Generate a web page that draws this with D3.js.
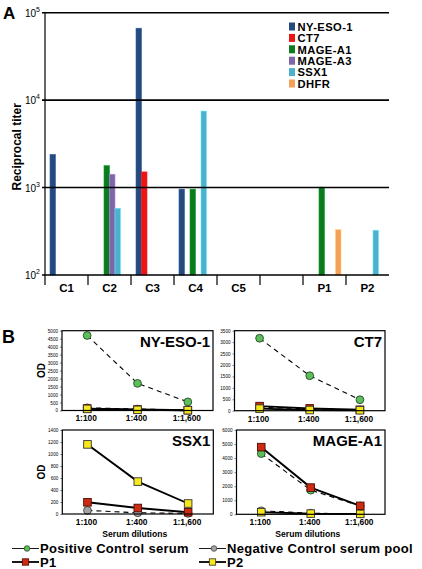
<!DOCTYPE html>
<html><head><meta charset="utf-8">
<script src="https://cdn.jsdelivr.net/npm/d3@7"></script>
<style>
html,body{margin:0;padding:0;background:#fff;}
svg{display:block;font-family:"Liberation Sans",Arial,Helvetica,sans-serif;}
</style></head>
<body>
<svg id="chart" width="422" height="569"></svg>
<script>
// ---------- Panel A data ----------
const categories = ["C1","C2","C3","C4","C5","","P1","P2"];
const antigens = ["NY-ESO-1","CT7","MAGE-A1","MAGE-A3","SSX1","DHFR"];
const antigenColors = ["#254a7e","#ee1414","#0c7a1e","#8066a8","#4db0cc","#f5a05a"];
const titerNYESO1 = [2400, null, 66500, 960, null, null, null, null];
const titerCT7    = [null, null, 1510, null, null, null, null, null];
const titerMAGEA1 = [null, 1780, null, 960, null, null, 1010, null];
const titerMAGEA3 = [null, 1420, null, null, null, null, null, null];
const titerSSX1   = [null, 580, null, 7500, null, null, null, 325];
const titerDHFR   = [null, null, null, null, null, null, 330, null];
const titerTicks = [100, 1000, 10000, 100000];

// ---------- Panel B data ----------
const dilutions = ["1:100","1:400","1:1,600"];
const seriesNames = ["Positive Control serum","Negative Control serum pool","P1","P2"];
// NY-ESO-1
const nyPos = [4700, 1700, 540];
const nyNeg = [170, 90, 30];
const nyP1  = [120, 60, 20];
const nyP2  = [100, 40, 20];
// CT7
const ct7Pos = [3170, 1530, 480];
const ct7Neg = [150, 80, 30];
const ct7P1  = [200, 100, 40];
const ct7P2  = [90, 30, 20];
// SSX1
const ssxPos = [null, null, null];
const ssxNeg = [60, 20, 10];
const ssxP1  = [195, 100, 30];
const ssxP2  = [1160, 540, 175];
// MAGE-A1
const magePos = [4320, 1720, 590];
const mageNeg = [250, 80, 30];
const mageP1  = [4780, 1900, 600];
const mageP2  = [150, 50, 30];
const odMax = [5000, 3500, 1400, 6000];
const odStep = [500, 500, 200, 1000];

const svg = d3.select("#chart");
const FF = '"Liberation Sans",Arial,Helvetica,sans-serif';

// ================= PANEL A =================
const aL = 45, aR = 389, aT = 12.7, aB = 275;
const x0 = d3.scaleBand().domain(categories).range([aL, aR]).paddingInner(0).paddingOuter(0);
const x1 = d3.scaleBand().domain(antigens).range([5, 38]);
const yA = d3.scaleLog().domain([100, 100000]).range([aB, aT]);

svg.append("text").attr("x", 3).attr("y", 19).attr("font-size", 17).attr("font-weight", "bold").text("A");

const gA = svg.append("g");
const titerSeries = [titerNYESO1, titerCT7, titerMAGEA1, titerMAGEA3, titerSSX1, titerDHFR];
const barData = [];
titerSeries.forEach((vals, si) => vals.forEach((v, ci) => {
  if (v != null) barData.push({cat: categories[ci], ant: antigens[si], color: antigenColors[si], v});
}));
gA.selectAll("rect.bar").data(barData).enter().append("rect")
  .attr("class", "bar")
  .attr("x", d => x0(d.cat) + x1(d.ant))
  .attr("width", x1.bandwidth())
  .attr("y", d => yA(d.v))
  .attr("height", d => aB - yA(d.v))
  .attr("fill", d => d.color)
  .attr("stroke", d => d3.color(d.color).brighter(0.8))
  .attr("stroke-width", 0.6);

gA.selectAll("line.grid").data(titerTicks).enter().append("line")
  .attr("x1", aL - 3).attr("x2", aR)
  .attr("y1", d => yA(d)).attr("y2", d => yA(d))
  .attr("stroke", "#000").attr("stroke-width", 1.6);
gA.append("line").attr("x1", aL).attr("x2", aL).attr("y1", aT).attr("y2", aB + 10)
  .attr("stroke", "#000").attr("stroke-width", 1.2);
gA.selectAll("line.ctick").data(categories.slice(1)).enter().append("line")
  .attr("x1", d => x0(d)).attr("x2", d => x0(d))
  .attr("y1", aB).attr("y2", aB + 10)
  .attr("stroke", "#000").attr("stroke-width", 1.2);
gA.selectAll("text.clab").data(categories).enter().append("text")
  .attr("x", d => x0(d) + x0.bandwidth() / 2)
  .attr("y", aB + 17)
  .attr("text-anchor", "middle")
  .attr("font-size", 11.5).attr("font-weight", "bold")
  .text(d => d);
const yl = gA.selectAll("text.ylab").data(titerTicks).enter().append("text")
  .attr("x", aL - 5).attr("y", d => yA(d) + 4)
  .attr("text-anchor", "end").attr("font-size", 10);
yl.append("tspan").text("10");
yl.append("tspan").attr("font-size", 7).attr("dy", -5).text(d => Math.round(Math.log10(d)));
svg.append("text").attr("transform", `translate(20.5,${(aT + aB) / 2 + 3}) rotate(-90)`)
  .attr("text-anchor", "middle").attr("font-size", 12).attr("font-weight", "bold")
  .text("Reciprocal titer");

// legend A
const lgA = svg.append("g").attr("transform", "translate(289,22.5)");
antigens.forEach((a, i) => {
  const g = lgA.append("g").attr("transform", `translate(0,${i * 11.4})`);
  g.append("rect").attr("x", 0).attr("y", 0).attr("width", 6).attr("height", 8).attr("fill", antigenColors[i]);
  g.append("text").attr("x", 8.5).attr("y", 8.2).attr("font-size", 11.2).attr("letter-spacing", 0.4)
    .attr("font-weight", "bold").text(a);
});

// ================= PANEL B =================
svg.append("text").attr("x", 2).attr("y", 343).attr("font-size", 18).attr("font-weight", "bold").text("B");

const panelTitles = ["NY-ESO-1", "CT7", "SSX1", "MAGE-A1"];
const panelData = [
  [nyPos, nyNeg, nyP1, nyP2],
  [ct7Pos, ct7Neg, ct7P1, ct7P2],
  [ssxPos, ssxNeg, ssxP1, ssxP2],
  [magePos, mageNeg, mageP1, mageP2]
];
const boxes = [
  {x: 62, y: 330.7, w: 151, h: 79.8},
  {x: 234.5, y: 330.7, w: 150.5, h: 80},
  {x: 62.3, y: 430, w: 151, h: 84},
  {x: 236.5, y: 430, w: 148.5, h: 84.3}
];
const markerFill = ["#5cbf5c", "#a3a3a3", "#cc2a12", "#f6e81c"];
const markerStroke = ["#1c3a1c", "#333", "#4a0c00", "#333"];
const isSquare = [false, false, true, true];
const dashed = [true, true, false, false];

panelTitles.forEach((title, pi) => {
  const b = boxes[pi];
  const g = svg.append("g").attr("transform", `translate(${b.x},${b.y})`);
  const xs = d3.scaleBand().domain(dilutions).range([0, b.w]);
  const ys = d3.scaleLinear().domain([0, odMax[pi]]).range([b.h, 0]);
  const ticks = d3.range(0, odMax[pi] + 1, odStep[pi]);
  const yAxis = d3.axisLeft(ys).tickValues(ticks).tickSize(2).tickFormat(d3.format("d"));
  const ga = g.append("g").call(yAxis);
  ga.select(".domain").remove();
  ga.selectAll("text").attr("font-size", 4.6).attr("font-family", FF).attr("dx", 1);
  ga.selectAll("line").attr("stroke-width", 0.5);
  g.selectAll("text.xl").data(dilutions).enter().append("text")
    .attr("x", d => xs(d) + xs.bandwidth() / 2 - 1).attr("y", b.h + 11)
    .attr("text-anchor", "middle").attr("font-size", 8.4).attr("font-weight", "bold").text(d => d);
  const order = pi === 3 ? [1, 3, 0, 2] : [0, 1, 2, 3];
  const line = d3.line().defined(d => d.v != null).x(d => xs(d.k) + xs.bandwidth() / 2).y(d => ys(d.v));
  order.forEach(si => {
    const vals = panelData[pi][si];
    const pts = vals.map((v, i) => ({k: dilutions[i], v}));
    g.append("path").datum(pts).attr("d", line).attr("fill", "none")
      .attr("stroke", "#000")
      .attr("stroke-width", dashed[si] ? 1.1 : 1.9)
      .attr("stroke-dasharray", dashed[si] ? "5,4" : null);
  });
  order.forEach(si => {
    const vals = panelData[pi][si];
    const pts = vals.map((v, i) => ({k: dilutions[i], v})).filter(d => d.v != null);
    if (isSquare[si]) {
      g.selectAll(null).data(pts).enter().append("rect")
        .attr("x", d => xs(d.k) + xs.bandwidth() / 2 - 3.8).attr("y", d => ys(d.v) - 3.8)
        .attr("width", 7.6).attr("height", 7.6)
        .attr("fill", markerFill[si]).attr("stroke", markerStroke[si]).attr("stroke-width", 0.9);
    } else {
      g.selectAll(null).data(pts).enter().append("circle")
        .attr("cx", d => xs(d.k) + xs.bandwidth() / 2).attr("cy", d => ys(d.v)).attr("r", 3.9)
        .attr("fill", markerFill[si]).attr("stroke", markerStroke[si]).attr("stroke-width", 0.8);
    }
  });
  g.append("rect").attr("x", 0).attr("y", 0).attr("width", b.w).attr("height", b.h)
    .attr("fill", "none").attr("stroke", "#000").attr("stroke-width", 1.2);
  g.append("text").attr("x", b.w - 3).attr("y", 16).attr("text-anchor", "end")
    .attr("font-size", 15).attr("font-weight", "bold").text(title);
  if (pi % 2 === 0) {
    g.append("text").attr("transform", `translate(${-17},${b.h / 2}) rotate(-90)`)
      .attr("text-anchor", "middle").attr("font-size", 10).attr("font-weight", "bold").text("OD");
  }
  if (pi >= 2) {
    g.append("text").attr("x", b.w / 2 - 3).attr("y", b.h + 22.5).attr("text-anchor", "middle")
      .attr("font-size", 8.6).attr("font-weight", "bold").text("Serum dilutions");
  }
});

// legend B
const lgPos = [{x: 12, y: 548.5}, {x: 199, y: 548.5}, {x: 12, y: 562}, {x: 199, y: 562}];
seriesNames.forEach((n, si) => {
  const p = lgPos[si];
  const g = svg.append("g").attr("transform", `translate(${p.x},${p.y})`);
  g.append("line").attr("x1", 0).attr("x2", 27).attr("y1", 0).attr("y2", 0)
    .attr("stroke", "#000").attr("stroke-width", dashed[si] ? 0.9 : 1.8);
  if (isSquare[si]) {
    g.append("rect").attr("x", 13.5 - 3.2).attr("y", -3.2).attr("width", 6.4).attr("height", 6.4)
      .attr("fill", markerFill[si]).attr("stroke", markerStroke[si]).attr("stroke-width", 0.8);
  } else {
    g.append("circle").attr("cx", 15).attr("cy", 0).attr("r", 2.8)
      .attr("fill", markerFill[si]).attr("stroke", markerStroke[si]).attr("stroke-width", 0.7);
  }
  g.append("text").attr("x", 28).attr("y", 4.8).attr("font-size", 13).attr("letter-spacing", 0.3)
    .attr("font-weight", "bold").text(n);
});
</script>
</body></html>
